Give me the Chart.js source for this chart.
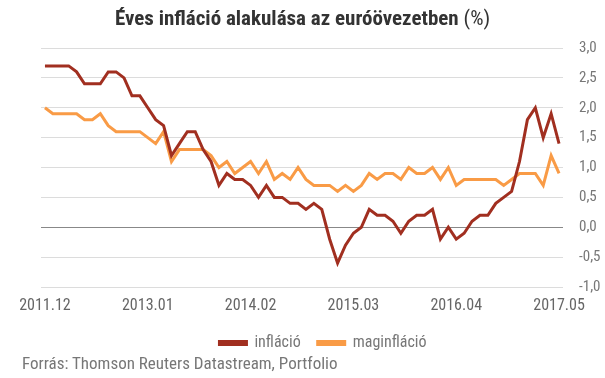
<!DOCTYPE html>
<html>
<head>
<meta charset="utf-8">
<script src="https://cdn.jsdelivr.net/npm/chart.js@4/dist/chart.umd.min.js"></script>
<style>
  body { margin: 0; background: #fff; }
  #keret { position: relative; width: 605px; height: 378px; }
  #cim {
    position: absolute; top: 6px; left: 0; width: 605px; text-align: center;
    font-family: "Roboto Condensed", "Liberation Sans Narrow", "DejaVu Sans Condensed", Roboto, sans-serif;
    font-size: 21px; font-weight: bold; color: #333;
  }
  #cim span { font-weight: normal; }
  #forras {
    position: absolute; left: 22px; top: 353px;
    font-family: "Roboto Condensed", "Liberation Sans Narrow", "DejaVu Sans Condensed", Roboto, sans-serif;
    font-size: 17px; color: #777;
  }
</style>
</head>
<body>
<div id="keret">
  <canvas id="myChart" width="605" height="378"></canvas>
  <div id="cim">Éves infláció alakulása az euróövezetben <span>(%)</span></div>
  <div id="forras">Forrás: Thomson Reuters Datastream, Portfolio</div>
</div>
<script>
// honapok 2011.12 - 2017.05
const honapok = [
  '2011.12',
  '2012.01','2012.02','2012.03','2012.04','2012.05','2012.06','2012.07','2012.08','2012.09','2012.10','2012.11','2012.12',
  '2013.01','2013.02','2013.03','2013.04','2013.05','2013.06','2013.07','2013.08','2013.09','2013.10','2013.11','2013.12',
  '2014.01','2014.02','2014.03','2014.04','2014.05','2014.06','2014.07','2014.08','2014.09','2014.10','2014.11','2014.12',
  '2015.01','2015.02','2015.03','2015.04','2015.05','2015.06','2015.07','2015.08','2015.09','2015.10','2015.11','2015.12',
  '2016.01','2016.02','2016.03','2016.04','2016.05','2016.06','2016.07','2016.08','2016.09','2016.10','2016.11','2016.12',
  '2017.01','2017.02','2017.03','2017.04','2017.05'
]

const inflacio = [
  2.7,
  2.7,2.7,2.7,2.6,2.4,2.4,2.4,2.6,2.6,2.5,2.2,2.2,
  2.0,1.8,1.7,1.2,1.4,1.6,1.6,1.3,1.1,0.7,0.9,0.8,
  0.8,0.7,0.5,0.7,0.5,0.5,0.4,0.4,0.3,0.4,0.3,-0.2,
  -0.6,-0.3,-0.1,0.0,0.3,0.2,0.2,0.1,-0.1,0.1,0.2,0.2,
  0.3,-0.2,0.0,-0.2,-0.1,0.1,0.2,0.2,0.4,0.5,0.6,1.1,
  1.8,2.0,1.5,1.9,1.4
]

const maginflacio = [
  2.0,
  1.9,1.9,1.9,1.9,1.8,1.8,1.9,1.7,1.6,1.6,1.6,1.6,
  1.5,1.4,1.6,1.1,1.3,1.3,1.3,1.3,1.2,1.0,1.1,0.9,
  1.0,1.1,0.9,1.1,0.8,0.9,0.8,1.0,0.8,0.7,0.7,0.7,
  0.6,0.7,0.6,0.7,0.9,0.8,0.9,0.9,0.8,1.0,0.9,0.9,
  1.0,0.8,1.0,0.7,0.8,0.8,0.8,0.8,0.8,0.7,0.8,0.9,
  0.9,0.9,0.7,1.2,0.9
]

const xCimkek = ['2011.12','2013.01','2014.02','2015.03','2016.04','2017.05']

const betu = '"Roboto Condensed", "Liberation Sans Narrow", "DejaVu Sans Condensed", Roboto, sans-serif'

const config = {
  type: 'line',
  data: {
    labels: honapok,
    datasets: [
      {
        label: 'infláció',
        data: inflacio,
        borderColor: '#a12f20',
        backgroundColor: '#a12f20',
        borderWidth: 3,
        pointRadius: 0,
        tension: 0
      },
      {
        label: 'maginfláció',
        data: maginflacio,
        borderColor: '#f99b46',
        backgroundColor: '#f99b46',
        borderWidth: 3,
        pointRadius: 0,
        tension: 0
      }
    ]
  },
  options: {
    responsive: false,
    animation: false,
    layout: { padding: { top: 48, left: 41, right: 0, bottom: 17 } },
    plugins: {
      legend: {
        position: 'bottom',
        labels: {
          boxWidth: 27,
          boxHeight: 3,
          padding: 17,
          color: '#777',
          font: { family: betu, size: 16 }
        }
      },
      tooltip: { enabled: false }
    },
    scales: {
      x: {
        offset: true,
        grid: { display: false, drawTicks: false },
        border: { display: false },
        ticks: {
          autoSkip: false,
          maxRotation: 0,
          color: '#666',
          font: { family: betu, size: 16 },
          padding: 9,
          callback: function (v, i) {
            const c = honapok[i]
            return xCimkek.includes(c) ? c : ''
          }
        },
        afterFit: s => { s.height = 31 }
      },
      y: {
        position: 'right',
        min: -1,
        max: 3,
        border: { display: false },
        grid: {
          drawTicks: false,
          color: c => c.tick.value === 0 ? '#888' : '#dcdcdc',
          lineWidth: 1
        },
        ticks: {
          stepSize: 0.5,
          padding: 16,
          color: '#777',
          font: { family: betu, size: 15 },
          callback: v => v.toFixed(1).replace('.', ',')
        },
        afterFit: s => { s.width = 42 }
      }
    }
  }
}

var myChartLine = new Chart(document.getElementById('myChart'), config)
</script>
</body>
</html>
